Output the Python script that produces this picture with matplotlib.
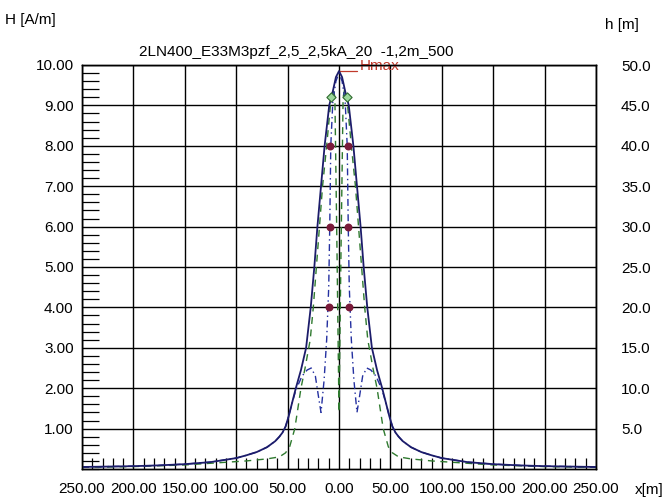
import numpy as np
import matplotlib
matplotlib.use('Agg')
import matplotlib.pyplot as plt
from matplotlib.ticker import MultipleLocator, FixedLocator, FuncFormatter

plt.rcParams['font.family'] = ['Liberation Sans Narrow', 'Liberation Sans', 'DejaVu Sans']

# distances from the line axis (one side, curves are symmetric) [m]
x_tot = [0, 3, 6, 9.5, 14, 17.5, 21, 24, 27.5, 32, 37, 42, 46, 49, 52, 55, 58,
         62, 70, 80, 90, 100, 125, 150, 175, 200, 225, 250]
h_tot = [9.85, 9.7, 9.35, 9.0, 8.0, 7.0, 6.0, 5.0, 4.0, 3.0, 2.45, 2.0, 1.6,
         1.3, 1.05, 0.9, 0.8, 0.69, 0.54, 0.42, 0.34, 0.27, 0.17, 0.12, 0.09,
         0.07, 0.06, 0.05]

x_blue = [0, 3, 6, 8, 9, 10, 12, 14.5, 17.5, 20, 23, 27, 31, 36, 42, 46, 49, 52,
          55, 58, 62, 70, 80, 90, 100, 125, 150, 175, 200, 225, 250]
h_blue = [9.8, 9.6, 9.1, 8.0, 6.0, 4.5, 3.2, 2.2, 1.4, 1.8, 2.3, 2.5, 2.45, 2.3,
          1.95, 1.6, 1.3, 1.05, 0.9, 0.8, 0.69, 0.54, 0.42, 0.34, 0.27, 0.17,
          0.12, 0.09, 0.07, 0.06, 0.05]

x_green = [0, 2, 4, 5.5, 8, 12, 16, 19, 22, 25, 28, 33, 37, 43, 48, 52, 58, 70,
           90, 120, 150, 200, 250]
h_green = [1.4, 5.5, 9.2, 9.4, 9.1, 8.0, 7.0, 6.0, 5.0, 4.0, 3.2, 2.5, 2.0, 1.0,
           0.55, 0.4, 0.3, 0.25, 0.2, 0.15, 0.1, 0.06, 0.04]

# conductor / earth wire positions (x [m], h [m])
cond_x = [-9, 9, -9, 9, -9.5, 9.5]
cond_h = [40, 40, 30, 30, 20, 20]
earth_x = [-7.5, 7.5]
earth_h = [46, 46]

xticks = [-250, -200, -150, -100, -50, 0, 50, 100, 150, 200, 250]
title = '2LN400_E33M3pzf_2,5_2,5kA_20  -1,2m_500'


def mirror(xs, ys):
    xs = np.asarray(xs, float)
    ys = np.asarray(ys, float)
    return np.concatenate([-xs[::-1], xs[1:]]), np.concatenate([ys[::-1], ys[1:]])


fig = plt.figure(figsize=(6.66, 4.98), dpi=100)
ax = fig.add_axes([82/666, 29/498, 514/666, 404/498])
ax2 = ax.twinx()

xs, ys = mirror(x_green, h_green)
ax.plot(xs, ys, color='#2f7a2f', lw=1.0, ls=(0, (5, 4)), zorder=3)
xs, ys = mirror(x_blue, h_blue)
ax.plot(xs, ys, color='#2430a0', lw=1.0, ls=(0, (5, 2.5, 1, 2.5)), zorder=3)
xs, ys = mirror(x_tot, h_tot)
ax.plot(xs, ys, color='#1c1c6a', lw=1.3, zorder=4)

ax2.scatter(cond_x, cond_h, s=22, marker='o', color='#7a1a3a', zorder=5)
ax2.scatter(earth_x, earth_h, s=22, marker='D', facecolor='#9bd89b',
            edgecolor='#2f6a2f', lw=0.8, zorder=5)

hmax = max(h_tot)
ax.annotate('Hmax', xy=(0, hmax), xytext=(21, 5), textcoords='offset pixels',
            ha='left', va='center', color='#c0392b', fontsize=11,
            annotation_clip=False,
            arrowprops=dict(arrowstyle='-', color='#c0392b', lw=0.9,
                            shrinkA=0, shrinkB=0, relpos=(0, 0.2),
                            connectionstyle='angle,angleA=90,angleB=0,rad=0'))

ax.set_xlim(-250, 250)
ax.set_ylim(0, 10)
ax2.set_ylim(0, 50)

ax.xaxis.set_major_locator(FixedLocator(xticks))
ax.xaxis.set_major_formatter(FuncFormatter(lambda v, p: '%.2f' % abs(v)))
ax.xaxis.set_minor_locator(MultipleLocator(10))
ax.yaxis.set_major_locator(FixedLocator(np.arange(1, 11)))
ax.yaxis.set_major_formatter(FuncFormatter(lambda v, p: '%.2f' % v))
ax.yaxis.set_minor_locator(MultipleLocator(0.2))
ax2.yaxis.set_major_locator(FixedLocator(np.arange(5, 51, 5)))
ax2.yaxis.set_major_formatter(FuncFormatter(lambda v, p: '%.1f' % v))

ax.grid(True, which='major', color='black', lw=1.0)
ax.tick_params(axis='x', which='both', direction='in', top=False, labelsize=11, pad=9)
ax.tick_params(axis='x', which='minor', length=8, width=0.9)
ax.tick_params(axis='x', which='major', length=0)
ax.tick_params(axis='y', which='both', direction='in', right=False, labelsize=11, pad=6)
ax.tick_params(axis='y', which='minor', length=12, width=0.9)
ax.tick_params(axis='y', which='major', length=0)
ax2.tick_params(axis='y', length=0, labelsize=11, pad=18)
for sp in list(ax.spines.values()) + list(ax2.spines.values()):
    sp.set_color('black')
    sp.set_linewidth(1.0)

fig.text(5/666, 1 - 20/498, 'H [A/m]', fontsize=11, va='center', ha='left')
fig.text(605/666, 1 - 25/498, 'h [m]', fontsize=11, va='center', ha='left')
fig.text(139/666, 1 - 52/498, title, fontsize=11, va='center', ha='left')
fig.text(649/666, 1 - 490/498, 'x[m]', fontsize=11, va='center', ha='center')

fig.savefig('out.png', dpi=100)
